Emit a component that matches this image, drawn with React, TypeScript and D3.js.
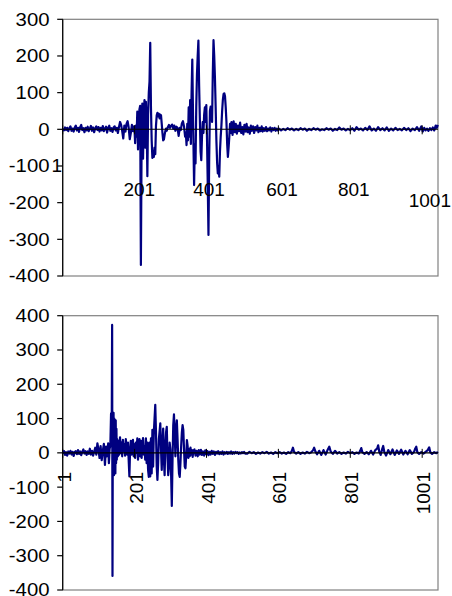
import React from "react";
import * as d3 from "d3";

const N = 1044;
const yTicksTop = [300, 200, 100, 0, -100, -200, -300, -400];
const yTicksBottom = [400, 300, 200, 100, 0, -100, -200, -300, -400];
const xTickLabels = ["1", "201", "401", "601", "801", "1001"];

// top series: category index / value
const topIdx = [
  1, 4, 7, 10, 13, 16, 19, 22, 25, 28, 31, 34, 37, 40, 43, 46, 49, 52, 55, 58, 61, 64, 67, 70, 73, 76, 79, 82, 85, 88, 91, 94, 97, 100,
  103, 106, 109, 112, 115, 118, 121, 124, 127, 130, 133, 136, 139, 142, 145, 148, 151, 154, 157, 160, 163, 166, 169, 172, 175, 178, 181,
  184, 187, 190, 193, 196, 199,
  200, 202, 204, 206, 208, 210, 212, 214, 216, 218, 220, 222, 224, 226, 228, 230, 232, 234, 236, 238, 240, 242, 244, 246, 248, 250, 252,
  254, 256, 258, 260, 262, 264, 266, 268, 270, 272, 274, 276, 278, 280, 282, 284, 286, 288,
  290, 293, 296, 299, 302, 305, 308, 311, 314, 317, 320, 323, 326, 329, 332, 335, 338, 341,
  343, 345, 347, 349, 351, 353, 355, 357, 359, 361, 363, 366, 368, 370, 372, 374, 376, 378, 380, 382, 384, 386, 388, 390, 392, 394, 396,
  398, 400, 402, 404, 406, 408, 410, 412, 414, 416, 418, 420, 422, 424, 426, 428, 430, 432, 434, 436, 438, 440, 442, 444, 446, 448, 450,
  452, 454, 456, 458, 460, 462, 464, 466, 468, 470,
  473, 476, 479, 482, 485, 488, 491, 494, 497, 500, 503, 506, 509, 512, 515, 518, 521, 524, 527, 530, 533, 536, 539, 542, 545, 548, 551,
  554, 557, 560, 563, 566, 569, 572, 575, 578, 581, 584, 587, 590, 593, 596, 599,
  602, 608, 614, 620, 626, 632, 638, 644, 650, 656, 662, 668, 674, 680, 686, 692, 698, 704, 710, 716, 722, 728, 734, 740, 746, 752, 758,
  764, 770, 776, 782, 788, 794, 800, 806, 812, 818, 824, 830, 836, 842, 848, 854, 860, 866, 872, 878, 884, 890, 896, 902, 908, 914, 920,
  926, 932, 938, 944, 950, 956, 962, 968, 974, 980, 986, 992, 998, 1002, 1006, 1010, 1014, 1018, 1022, 1026, 1030, 1034, 1038, 1041, 1044,
];
const topVal = [
  2, -3, 5, -2, 4, -5, 3, 8, -4, 2, -6, 5, 10, -3, 4, -7, 6, 12, -2, 3, -8, 4, -3, 7, -5, 2, 9, -4, 5, -8, 3, 8, -2, 6,
  -6, 4, -3, 9, -5, 2, 7, -9, 4, 10, -4, 3, -7, 5, 8, -3, 4, -10, 6, 20, 12, -5, -25, 10, -6, 15, 22,
  5, -27, -10, 12, -5, 8,
  5, -38, 10, -20, 48, -55, 20, 55, 64, -370, -30, 70, -80, 40, 80, -50, 75, 20, -128, 40, 100, 130, 236, 60, -30, -78, -60,
  -75, -50, -68, 10, 38, 45, 35, 42, 30, 40, 38, 15, -10, -30, -28, -15, -5, 2,
  -4, 6, 12, 4, 10, 13, 2, 10, -4, 7, 3, -18, 4, -2, 16, 22, 8, -20,
  -10, -43, 15, -30, 60, -20, 80, -40, 100, 190, 40, -152, -40, -93, 60, 150, 200, 242, 120, 30, -60, -84, -20, 20, -10, 40, 60,
  20, 66, -30, -150, -288, -80, 50, 62, 58, 20, 150, 243, 200, 140, 60, -30, -90, -120, -100, -129, -60, -20, 10, 50, 80, 96, 98,
  90, 60, 20, -40, -75, -50, -20, 15, -10, 20,
  -15, 22, -8, 15, -12, 10, -5, 18, -10, 6, -14, 12, -6, 15, -8, 5, -12, 10, -4, 8, -10, 6, -3, 10, -8, 4, -5,
  8, -6, 3, -4, 6, -5, 2, -3, 5, -6, 3, -2, 4, -4, 2, -3,
  2, -3, 1, -2, 3, -1, 2, -3, 1, -2, 3, -1, 2, -4, 1, -2, 3, -1, 2, -3, 0, -2, 3, -1, 2, -4, 1,
  -2, 5, -1, 2, -3, 1, -2, 3, -4, 6, -1, 2, -3, 4, -2, 8, -3, 2, -4, 6, -2, 3, -3, 5, -4, 2, -3,
  4, -2, 1, -3, 4, -2, 3, -5, 2, -2, 6, -4, 8, -6, 4, -3, 2, -4, 3, -2, 5, -3, 10, 4, 12,
];

// bottom series
const botIdx = [
  1, 4, 7, 10, 13, 16, 19, 22, 25, 28, 31, 34, 37, 40, 43, 46, 49, 52, 55, 58, 61, 64, 67, 70, 73, 76, 79, 82, 85, 88, 91,
  94, 97, 100, 103, 106, 109, 112, 115, 118, 121, 124, 127, 129, 131,
  133, 135, 137, 138, 139, 140, 141, 142, 143, 144, 145, 146, 147, 148, 149, 150, 151, 152,
  154, 156, 158, 160, 162, 164, 166, 168, 170, 172, 174, 176, 178, 180, 182, 184, 186, 188, 190, 192, 194, 196, 198, 200, 202, 204, 206,
  208, 210, 212, 214, 216, 218, 220, 222, 224, 226, 228, 230, 232, 234, 236, 238, 240, 242, 244, 246, 248, 250, 252, 254, 256, 258, 260,
  262, 264, 266, 268, 270, 272, 274, 276, 278, 280, 282, 284, 286, 288, 290, 292, 294, 296, 298, 300, 302, 304, 306, 308, 310, 312, 314,
  316, 318, 320, 322, 324, 326, 328, 330, 332, 334, 336, 338, 340, 342, 344, 346, 348, 350, 352, 354, 356, 358, 360, 362, 364,
  367, 370, 373, 376, 379, 382, 385, 388, 391, 394, 397, 400, 403, 406, 409, 412, 415, 418, 421, 424, 427, 430, 433, 436, 439, 442, 445,
  448, 451, 454, 457, 460, 463, 466, 469, 472, 475, 478, 481, 484, 487, 490, 493, 496, 499, 502, 505, 508,
  514, 520, 526, 532, 538, 544, 550, 556, 562, 568, 574, 580, 586, 592, 598, 604, 610, 616, 622, 628, 634, 638, 641, 644, 650, 656, 662,
  668, 674, 680, 686, 692, 697, 700, 703, 708, 714, 720, 726, 732, 738, 742, 746, 752, 758, 764, 770, 776, 782, 788, 794, 800, 806, 812,
  818, 824, 828, 831, 834, 840, 846, 852, 858, 864, 870, 875, 878, 881, 885, 889, 892, 895, 900, 906, 912, 918, 924, 930, 936, 942, 948,
  954, 960, 966, 972, 978, 981, 984, 987, 992, 998, 1004, 1010, 1016, 1020, 1023, 1028, 1034, 1040, 1044,
];
const botVal = [
  -3, 5, -6, 2, -8, 4, -2, 6, -5, 3, -9, 2, 5, -4, 8, -3, 4, -7, 3, 10, -2, 5, -6, 4, -3, 12, -5, 6, -8, 3, 15,
  -5, 28, 10, -15, 20, -21, 5, 26, -35, 18, -10, 28, -30, 12,
  20, 115, 110, 373, -359, 100, -40, 117, -65, 100, -50, 96, -60, 95, -30, 70, -20, 40,
  -10, 35, -5, 45, 0, 30, -10, 38, 5, 25, -8, 40, 10, -5, 30, -20, -69, 10, 35, -5, 20, 38, -10, 25, -15, 30, 0,
  42, -20, 15, 40, -10, 35, -15, 25, 43, -5, 20, -20, 42, -30, 30, -50, -70, 30, -69, 42, -60, 67, -40, 60, 100, 140, 60,
  -40, -79, -30, 40, 62, 86, 10, -50, 30, 71, -20, -65, 20, 60, 76, -10, -65, -40, 30, 10, -60, -155, -20, 80, 112, 60, -10,
  70, 95, 40, -20, -60, -70, -30, 20, 60, 81, 67, 10, -40, -45, -10, 37, 20, -15, 10, -10, 15, -5, 8, -12, 6,
  10, -8, 6, -10, 8, -5, 9, -6, 4, -8, 7, -4, 5, -7, 3, -5, 6, -3, 4, -6, 3, -2, 5, -4, 2, -3, 4,
  -5, 2, -2, 3, -3, 2, -2, 4, -3, 2, -2, 3, -1, 2, -3, 1, -2, 2, -1, 3, -2,
  -2, 3, -1, 2, -3, 1, -2, 2, -1, 3, -2, 1, -3, 2, -1, 2, -2, 1, -3, 2, -1, 6, 15, 3, -2, 2, -3,
  1, -2, 3, -1, 2, 8, 15, 5, -4, 6, -6, 8, -5, 10, 18, 4, -3, 6, -2, 2, -3, 1, -2, 3, -1, 2, -3,
  1, -2, 6, 14, 2, -3, 2, -4, 6, -5, 8, 12, 22, 4, -6, 10, 20, 3, -8, 8, -4, 10, -6, 7, -3, 9, -5,
  6, -4, 8, -3, 3, 12, 18, 2, -3, 2, -2, 3, 8, 16, 2, -3, 2, -1, 3,
];

const W = 452;
const H = 596;
const FONT = "'Liberation Sans', Arial, sans-serif";

type PanelProps = {
  idx: number[];
  val: number[];
  ticks: number[];
  domain: [number, number];
  top: number;
  bottom: number;
  rotated: boolean;
};

function Panel({ idx, val, ticks, domain, top, bottom, rotated }: PanelProps) {
  const left = 62.7;
  const right = 438;
  const x = d3.scaleLinear().domain([0.5, N + 0.5]).range([left, right]);
  const y = d3.scaleLinear().domain(domain).range([bottom, top]);
  const pts: [number, number][] = idx.map((d, i) => [d, val[i]]);
  const line = d3
    .line<[number, number]>()
    .x((d) => x(d[0]))
    .y((d) => y(d[1]));
  const y0 = y(0);
  const labelIdx = xTickLabels.map((s) => +s);
  // offsets of Excel's label placement for the unrotated (top) chart
  const topDx = [-6, 4.7, 2.6, 3.7, 3.5, 7.7];
  const topBase = [171.7, 196, 196, 196, 196, 207.3];
  return (
    <g>
      <rect x={left} y={top} width={right - left} height={bottom - top} fill="none" stroke="#808080" strokeWidth={1.2} />
      <line x1={left} x2={left} y1={top} y2={bottom} stroke="#000" strokeWidth={1.2} />
      {ticks.map((t) => (
        <g key={t}>
          <line x1={left - 5.5} x2={left} y1={y(t)} y2={y(t)} stroke="#000" strokeWidth={1.2} />
          <text
            transform={`translate(49.5,${y(t)}) scale(1.13,1)`}
            textAnchor="end"
            dy="0.36em"
            fontSize={18}
            fontFamily={FONT}
            fill="#000"
          >
            {t}
          </text>
        </g>
      ))}
      <path d={line(pts) || ""} fill="none" stroke="#000080" strokeWidth={2.2} strokeLinejoin="round" />
      <line x1={left} x2={right} y1={y0} y2={y0} stroke="#000" strokeWidth={1.1} />
      {labelIdx.map((k) => (
        <line key={k} x1={x(k - 0.5)} x2={x(k - 0.5)} y1={y0 - 4} y2={y0 + 5} stroke="#000" strokeWidth={1} />
      ))}
      {labelIdx.map((k, i) =>
        rotated ? (
          <text
            key={"l" + k}
            transform={`translate(${x(k - 0.5) + 1.2},472) rotate(-90)`}
            textAnchor="end"
            dy="0.36em"
            fontSize={19}
            fontFamily={FONT}
            fill="#000"
          >
            {xTickLabels[i]}
          </text>
        ) : (
          <text
            key={"l" + k}
            x={x(k - 0.5) + topDx[i]}
            y={topBase[i]}
            textAnchor="middle"
            fontSize={19}
            fontFamily={FONT}
            fill="#000"
          >
            {xTickLabels[i]}
          </text>
        )
      )}
    </g>
  );
}

export default function App() {
  return (
    <svg width={W} height={H} style={{ position: "absolute", left: 0, top: 0, background: "#fff" }}>
      <rect width={W} height={H} fill="#fff" />
      <Panel idx={topIdx} val={topVal} ticks={yTicksTop} domain={[-400, 300]} top={19.3} bottom={276} rotated={false} />
      <Panel idx={botIdx} val={botVal} ticks={yTicksBottom} domain={[-400, 400]} top={315.7} bottom={590} rotated={true} />
    </svg>
  );
}
